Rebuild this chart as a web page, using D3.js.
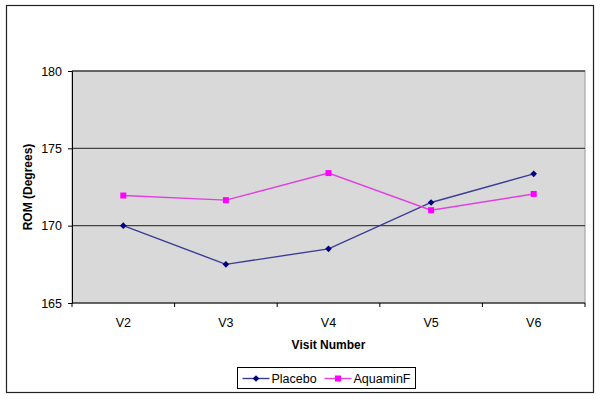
<!DOCTYPE html>
<html>
<head>
<meta charset="utf-8">
<script src="https://cdn.jsdelivr.net/npm/d3@7"></script>
<style>
  body { margin: 0; background: #fff; }
  text { font-family: "Liberation Sans", Arial, sans-serif; }
</style>
</head>
<body>
<svg width="600" height="400"></svg>
<script>
// data
const visits = ["V2", "V3", "V4", "V5", "V6"];
const placebo = [170.0, 167.5, 168.5, 171.5, 173.35];
const aquamin = [171.95, 171.65, 173.4, 171.0, 172.05];
const yTicks = [165, 170, 175, 180];

const svg = d3.select("svg"),
    width = +svg.attr("width"),
    height = +svg.attr("height");

const plot = {left: 72, right: 585, top: 71, bottom: 303};

// outer frame
svg.append("rect")
  .attr("x", 6.5).attr("y", 5.5)
  .attr("width", 587).attr("height", 387)
  .attr("fill", "#fff")
  .attr("stroke", "#222")
  .attr("stroke-width", 1.2);

const x = d3.scaleBand()
  .domain(visits)
  .range([plot.left, plot.right]);

const y = d3.scaleLinear()
  .domain([165, 180])
  .range([plot.bottom, plot.top]);

// plot background
svg.append("rect")
  .attr("x", plot.left).attr("y", plot.top)
  .attr("width", plot.right - plot.left)
  .attr("height", plot.bottom - plot.top)
  .attr("fill", "#d9d9d9")
  .attr("stroke", "#9a9a9a");

// gridlines
svg.append("g")
  .selectAll("line")
  .data(yTicks.slice(1))
  .join("line")
    .attr("x1", plot.left).attr("x2", plot.right)
    .attr("y1", d => y(d)).attr("y2", d => y(d))
    .attr("stroke", "#444")
    .attr("stroke-width", 1.3);

// y axis
const yAxis = svg.append("g")
  .attr("transform", `translate(${plot.left},0)`)
  .call(d3.axisLeft(y).tickValues(yTicks).tickSize(4).tickPadding(6));
yAxis.select(".domain").attr("stroke", "#000");
yAxis.selectAll("text").attr("font-size", 12.5).attr("fill", "#000")
  .attr("font-family", "Liberation Sans, Arial, sans-serif");

// x axis (ticks between categories)
const xAxis = svg.append("g")
  .attr("transform", `translate(0,${plot.bottom})`);
xAxis.append("line")
  .attr("x1", plot.left).attr("x2", plot.right)
  .attr("stroke", "#000");
xAxis.selectAll(".tk")
  .data(visits.concat(["end"]))
  .join("line")
    .attr("class", "tk")
    .attr("x1", (d, i) => i < visits.length ? x(d) : plot.right)
    .attr("x2", (d, i) => i < visits.length ? x(d) : plot.right)
    .attr("y1", 0).attr("y2", 4)
    .attr("stroke", "#000");
xAxis.selectAll(".lbl")
  .data(visits)
  .join("text")
    .attr("class", "lbl")
    .attr("x", d => x(d) + x.bandwidth() / 2)
    .attr("y", 24)
    .attr("text-anchor", "middle")
    .attr("font-size", 12.5)
    .text(d => d);

// axis titles
svg.append("text")
  .attr("x", (plot.left + plot.right) / 2)
  .attr("y", 349)
  .attr("text-anchor", "middle")
  .attr("font-size", 12)
  .attr("font-weight", "bold")
  .text("Visit Number");

svg.append("text")
  .attr("transform", `translate(32,${(plot.top + plot.bottom) / 2}) rotate(-90)`)
  .attr("text-anchor", "middle")
  .attr("font-size", 12)
  .attr("font-weight", "bold")
  .text("ROM (Degrees)");

const line = d3.line()
  .x((d, i) => x(visits[i]) + x.bandwidth() / 2)
  .y(d => y(d));

// diamond = square turned 45 degrees, like the spreadsheet marker
const series = [
  {name: "Placebo", values: placebo, color: "#3c3c96", mark: "#000080", shape: d3.symbolSquare, size: 22, rot: 45},
  {name: "AquaminF", values: aquamin, color: "#e040e0", mark: "#ff00ff", shape: d3.symbolSquare, size: 36, rot: 0}
];

series.forEach(s => {
  svg.append("path")
    .datum(s.values)
    .attr("fill", "none")
    .attr("stroke", s.color)
    .attr("stroke-width", 1.4)
    .attr("d", line);
  svg.append("g")
    .selectAll("path")
    .data(s.values)
    .join("path")
      .attr("transform", (d, i) => `translate(${x(visits[i]) + x.bandwidth() / 2},${y(d)}) rotate(${s.rot})`)
      .attr("d", d3.symbol().type(s.shape).size(s.size))
      .attr("fill", s.mark);
});

// legend
const legend = svg.append("g").attr("transform", "translate(237.5,367.5)");
legend.append("rect")
  .attr("width", 178).attr("height", 21)
  .attr("fill", "#fff")
  .attr("stroke", "#000");
const item = legend.selectAll(".item")
  .data(series)
  .join("g")
    .attr("class", "item")
    .attr("transform", (d, i) => `translate(${i === 0 ? 5 : 87},11)`);
item.append("line")
  .attr("x1", 0).attr("x2", 27)
  .attr("stroke", d => d.color)
  .attr("stroke-width", 1.4);
item.append("path")
  .attr("transform", d => `translate(13.5,0) rotate(${d.rot})`)
  .attr("d", d => d3.symbol().type(d.shape).size(d.size)())
  .attr("fill", d => d.mark);
item.append("text")
  .attr("x", 29).attr("y", 4.5)
  .attr("font-size", 12.5)
  .text(d => d.name);
</script>
</body>
</html>
